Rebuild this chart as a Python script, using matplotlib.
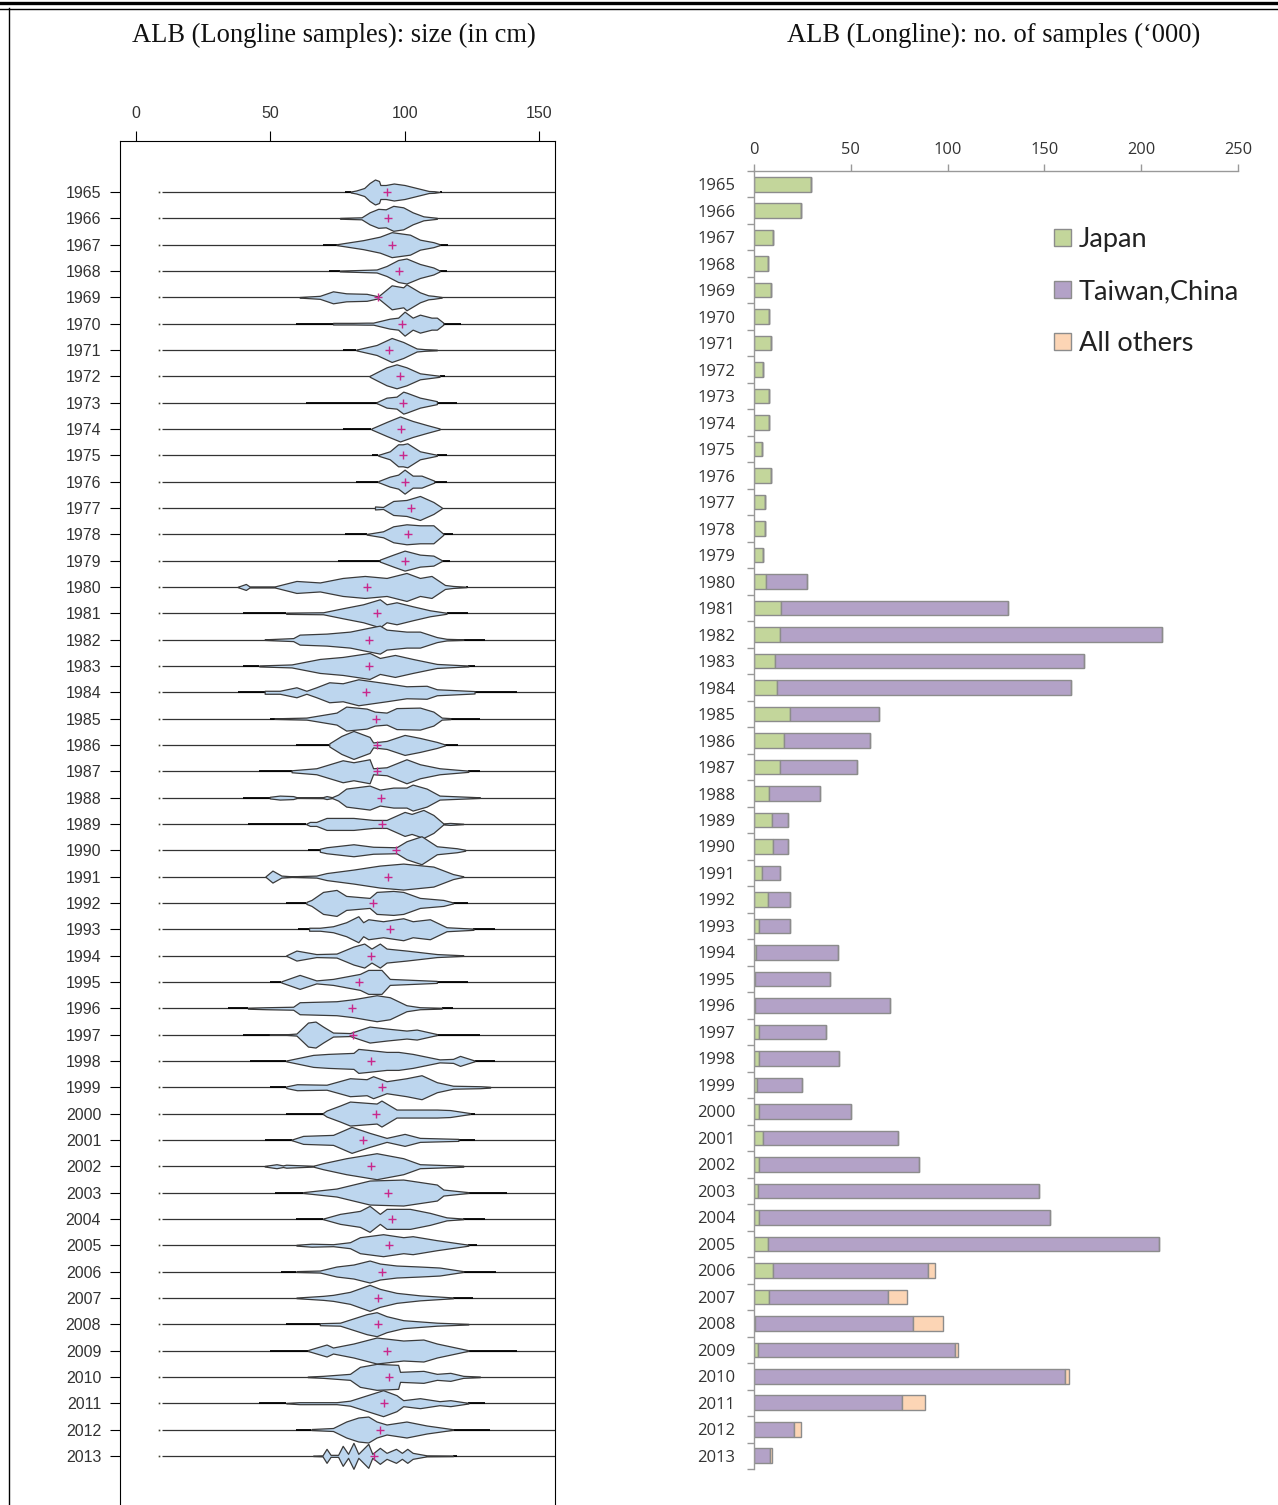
import matplotlib
matplotlib.use("Agg")
import matplotlib.pyplot as plt
from matplotlib.lines import Line2D

W, H = 1278, 1505

# ---- right panel: samples ('000) ----
years = list(range(1965, 2014))
japan = [29.4, 24.5, 10, 7, 9, 7.5, 9, 4.5, 7.5, 7.5, 4, 9, 5.5, 5.5, 4.5,
         6, 14, 13.5, 11, 12, 18.5, 15.5, 13.5, 7.5, 9.5, 10, 4, 7, 2.5, 1,
         0.5, 0.5, 2.5, 2.5, 1.5, 2.5, 4.5, 2.5, 2, 2.5, 7, 10, 7.5, 0.7, 2,
         0, 0, 0, 0]
taiwan = [0, 0, 0, 0, 0, 0, 0, 0, 0, 0, 0, 0, 0, 0, 0,
          21.4, 117, 197.5, 159.5, 151.7, 46, 44.5, 39.5, 26.5, 8, 7.5, 9.5, 11.5, 16, 42.4,
          38.5, 69.5, 34.5, 41.5, 23.3, 47.5, 69.9, 82.5, 145, 150.5, 202, 80, 61.5, 81.3, 102,
          160.6, 76.4, 20.7, 8.3]
others = [0, 0, 0, 0, 0, 0, 0, 0, 0, 0, 0, 0, 0, 0, 0,
          0, 0, 0, 0, 0, 0, 0, 0, 0, 0, 0, 0, 0, 0, 0,
          0, 0, 0, 0, 0, 0, 0, 0, 0, 0, 0, 3.5, 10, 15.6, 1.5,
          2.1, 11.9, 3.6, 1]

# ---- left panel: size in cm ----
means = [93.4, 93.9, 95.4, 97.9, 90.2, 99.1, 94.2, 98.3, 99.3, 98.6, 99.3, 100.1, 102.4,
         101.4, 100.1, 86.1, 89.8, 86.8, 86.8, 85.5, 89.2, 89.8, 89.8, 91.3, 91.7, 96.8,
         93.9, 88.3, 94.5, 87.7, 83.1, 80.3, 80.9, 87.7, 91.7, 89.3, 84.6, 87.7, 93.9,
         95.4, 94.3, 91.7, 90.2, 90.2, 93.5, 94.3, 92.4, 91, 88.7]
low_ends = [78, 76, 69.7, 72, 61, 59.8, 77, 87, 63.5, 77, 88, 82, 89, 77.8, 75.3,
            38, 40, 48, 40, 38, 49.9, 59.8, 46, 40, 41.8, 64, 48.3, 56, 60.4, 56, 49.9,
            34.4, 40, 42.4, 49.9, 56, 48, 48, 51.7, 59.8, 59.8, 54.2, 59.8, 56, 49.9,
            64, 46, 59.8, 66]
high_ends = [114, 112, 116, 115.6, 114, 120.8, 112, 115, 119.4, 113, 115.6, 115.6, 114,
             117.9, 116.9, 123.7, 123.7, 130, 126, 141.7, 128, 120, 128, 128, 121.8, 122.5,
             121.8, 123.7, 133.6, 121.8, 123.7, 118, 128, 133.6, 131.8, 126, 126, 121.8,
             138, 130, 127, 134, 125.5, 123.7, 141.7, 128, 130, 131.8, 119.6]
smallest_fish = 8.6

# (size in cm, half height of the violin)
p1965 = [(80, .5), (82, 1.5), (85, 4), (87, 9), (89, 12.5), (90.5, 11), (91, 7), (93, 7), (96, 8.5), (100, 7), (103, 5), (106, 3), (109, 1), (111, .8), (113, 0)]
p1966 = [(76, .4), (84, 1), (87, 6), (90.2, 9.5), (93, 9), (95.8, 12.5), (99.5, 11), (103, 6), (107, 2), (112, .5)]
p1967 = [(74.7, .4), (84.6, 4.5), (90.8, 8), (95.2, 12.5), (102, 10), (105.7, 5), (110.7, 2.5), (113, .5)]
p1968 = [(75.9, .4), (89.6, 1.5), (93.3, 5), (97.6, 11), (100.7, 12.5), (105.7, 7), (110.7, 3.5), (113, .5)]
p1969 = [(61, .3), (68.5, 1.5), (73.4, 6), (78.3, 4), (85.9, 3.5), (90.2, 1), (95.2, 12), (99.5, 10), (100.7, 13), (105.7, 5), (108.8, 2), (110.7, 1.5), (113.8, .3)]
p1970 = [(73.4, .8), (80.9, .8), (85.9, 1), (88.3, 1), (94.5, 5), (97.6, 6), (100, 12), (103, 6), (105.7, 9), (110, 6), (112, 6), (114.4, 1)]
p1971 = [(82.1, .4), (89.6, 5), (95.2, 12), (99.5, 8), (104.5, 1.5), (107.6, .8), (112, .3)]
p1972 = [(87, .4), (89.6, 4), (93.3, 9), (97, 12), (100.7, 9), (105.7, 3), (113, .5)]
p1973 = [(89.6, .5), (93.3, 5), (97, 6), (99.5, 11), (100.7, 10), (105.7, 5), (112, 1.5)]
p1974 = [(87.7, .5), (93.3, 7), (98.3, 12.5), (103, 8), (108.2, 4), (113, .5)]
p1975 = [(90.2, .4), (94.5, 4), (97.6, 11), (99.3, 11), (101, 12), (105.7, 4), (112, .5)]
p1976 = [(90.2, .5), (94.5, 5), (97.6, 7), (100, 12), (103, 6), (106.3, 6), (111, 1)]
p1977 = [(89, 1.5), (92, 1), (95.8, 7), (100.7, 8), (105.7, 12), (110.7, 6), (113.8, .5)]
p1978 = [(85.9, .3), (92, 3), (95.8, 8), (100.7, 10), (105.7, 9), (110.7, 9), (114.4, .5)]
p1979 = [(90.8, 1), (95.8, 6), (100, 10), (105.7, 6), (110.7, 5), (113.8, .5)]
p1980 = [(38, .2), (41, 3), (42.4, .5), (51.7, .5), (59.8, 6), (68.5, 4.5), (77, 9), (85.2, 11), (93.3, 9), (100.7, 14), (105.7, 9), (110, 11), (115, 2), (118, 1), (123, .2)]
p1981 = [(56, .6), (69.7, 1), (77, 5), (84.6, 9), (90.8, 14), (93.3, 9), (97, 11), (103, 7), (109.4, 3), (115.6, .5)]
p1982 = [(48, .3), (58.6, 1.5), (61, 5), (71, 6), (79.7, 8), (87, 12), (90.8, 14), (93.3, 10), (100.7, 8), (105.7, 8), (112, 2.5), (115.6, .8), (121.8, .3)]
p1983 = [(46, .5), (58, 1.5), (68.5, 7), (77, 9), (87, 13), (90.8, 8), (96.4, 11), (103, 7), (112, 2), (119.4, 1), (123.7, .4)]
p1984 = [(48, 1.5), (53.6, 1.5), (59.8, 5), (63.5, 1.5), (67.2, 5), (72, 10), (77, 9), (82.8, 13), (93.3, 9), (100.7, 6), (108.2, 6.5), (112, 3), (126, 1.2)]
p1985 = [(51.7, .3), (63.5, 1), (74.7, 6), (78.3, 12), (85.9, 10), (88.9, 7), (93.3, 6), (97, 10.5), (105.7, 11), (110.7, 7), (113.8, 1), (117, .5)]
p1986 = [(72, 1.5), (76.5, 9), (81, 14), (87, 8), (88.3, 2.5), (93.3, 4), (100, 10), (105.7, 7), (112, 3), (115, .5)]
p1987 = [(58, 1), (67.2, 3), (77, 11), (81, 9), (87, 12), (88.3, 3), (93.3, 4), (100.7, 12), (105.7, 7), (113, 3), (123.7, .6)]
p1988 = [(49.9, .8), (53.6, 2), (58.6, 1.5), (60, .3), (69.7, .5), (71, 1.5), (73, .4), (75.3, 3), (78.3, 9), (87, 12), (90.8, 8), (95.8, 10), (100.7, 10), (103, 13), (108.2, 9), (113, 2), (123.7, .8), (128, .3)]
p1989 = [(63.5, .3), (64.8, 2), (67.2, 2), (71, 6), (81, 6), (88.3, 4), (93.3, 4), (100, 12), (102.6, 10), (107, 14), (110.7, 9), (114.4, .5), (116.9, 1), (121.8, .2)]
p1990 = [(68.5, 1.5), (71, 3), (81, 6), (88.3, 3.5), (97, 3), (100.7, 9), (106.3, 14), (112, 4), (119.4, 2), (122.5, .5)]
p1991 = [(48.3, .2), (50.9, 6), (54.2, 1), (58, .3), (67.2, 1), (71, 3.5), (81, 7), (90.8, 11), (99.5, 13), (110.7, 10), (118, 2.5), (121.8, .3)]
p1992 = [(63.5, 1), (65.4, 3), (69.7, 11), (74.7, 13), (78.3, 7), (87, 5), (89.6, 11), (95.8, 12), (99.5, 11), (105.7, 5), (114.4, 3), (118, .5)]
p1993 = [(64.5, 1.5), (68.5, 1.5), (73.4, 3), (78.3, 7), (82.8, 13), (84.6, 7), (86.5, 10), (92, 8), (99.5, 11), (103, 8), (109.4, 10), (115.6, 2), (125.6, .6)]
p1994 = [(56, .2), (59.8, 5), (67.2, 1.5), (74.7, 2), (81, 9), (85, 12), (87.7, 7), (90.8, 12), (93.3, 7), (100.7, 5), (112, 1.5), (121.8, .3)]
p1995 = [(54.2, .6), (61, 7), (67.2, 1.5), (73.4, 3), (83.4, 8), (86.5, 12), (89, 12), (91.4, 12), (94.5, 3), (112, 1)]
p1996 = [(41.8, .5), (48.6, 1), (58.6, 1.5), (61, 6), (74.7, 7), (81, 9), (89.6, 13), (94.5, 11), (100.7, 3), (105.7, 1), (113.8, .4)]
p1997 = [(49.9, .3), (56, .3), (59.8, 1), (64.1, 12), (66.9, 13), (69.7, 8), (73.4, 2), (79.7, 1.5), (87, 8), (93.3, 6), (100.7, 4), (104.5, 5), (112, .5)]
p1998 = [(56, .4), (66, 6), (71.6, 7), (81, 8), (82.8, 12), (86.5, 11), (93.3, 9), (97.7, 9), (103, 7), (113, 1.5), (118, 2), (120.6, 5), (126, .4)]
p1999 = [(56, .8), (60, 3), (71, 2.5), (79.7, 9), (85.9, 8), (88.3, 11), (93.3, 6), (100.7, 9), (106.3, 12), (112, 5), (118, 1.5), (128, 1), (131.8, .4)]
p2000 = [(69.7, .6), (71, 3), (76, 8), (79.7, 12), (89.6, 10), (91.4, 13), (97, 4), (112, 4), (116.9, 3.5), (124.3, .5)]
p2001 = [(58, .3), (62.3, 4), (73.4, 5), (80.3, 13), (87, 7), (93.3, 2), (100, 6), (105.7, 2), (120, 1)]
p2002 = [(48, .3), (52.4, 2), (54.8, .8), (56, 1.5), (66, .4), (69.7, 3), (78.3, 8), (89.6, 13), (99.5, 8), (105.7, 2), (121.8, .5)]
p2003 = [(62.3, .4), (74.7, 4), (87, 12), (99.5, 13), (112, 8), (114.4, 3), (123.7, .4)]
p2004 = [(69.7, .3), (76, 5), (83.4, 8), (87, 13), (90.8, 5), (93.3, 10), (102, 10), (109.4, 6), (115.6, 1.5), (121.8, .3)]
p2005 = [(59.8, .4), (65.4, 1.5), (73.4, 1), (79.7, 3), (83.4, 8), (92, 11), (99.5, 8), (103, 9), (112, 5), (123.7, .5)]
p2006 = [(59.8, .4), (68.5, 1), (74.7, 5), (81, 7), (87, 11), (90.8, 8), (97, 6), (105.7, 5), (113, 4), (121.8, .4)]
p2007 = [(59.8, .3), (69.7, 2), (73.4, 3), (79.7, 6), (87, 13), (90.8, 9), (97, 5), (105.7, 2.5), (118, .4)]
p2008 = [(68.5, 1), (76, 1.5), (85.9, 10), (89.6, 12), (93.3, 8), (99.5, 4), (112, 1.5), (123.7, .3)]
p2009 = [(64.1, .5), (71, 6), (73.4, 3), (81, 7), (89.6, 13), (99.5, 10), (107, 11), (112, 7), (123.7, .3)]
p2010 = [(64, .3), (69.7, 1), (79.7, 3), (83.4, 10), (89.6, 13), (97.6, 12), (98.3, 5), (107, 6), (112, 3), (117, 4), (121.8, 1), (128, .3)]
p2011 = [(56, .2), (61, 1), (74.7, 1), (79.7, 2.5), (92, 13), (97, 8), (99.5, 3), (105.7, 5), (113, 2), (117, 3), (123.7, .3)]
p2012 = [(65.4, .5), (73.4, 1.5), (78.3, 8), (82.8, 12), (86.5, 13), (89.6, 8), (93.3, 5), (100.7, 8), (108.2, 4), (118, .3)]
p2013 = [(66, .2), (69.5, .5), (71, 7), (72.5, 1), (75.3, 1), (77, 10), (79, 2), (81, 13), (82.8, 2), (86.5, 12), (88, 2), (90.8, 8), (93.3, 3), (96.8, 7), (99, 3), (101, 7), (103, 3), (108.2, .5), (118, .3)]
profiles = [p1965, p1966, p1967, p1968, p1969, p1970, p1971, p1972, p1973, p1974,
            p1975, p1976, p1977, p1978, p1979, p1980, p1981, p1982, p1983, p1984,
            p1985, p1986, p1987, p1988, p1989, p1990, p1991, p1992, p1993, p1994,
            p1995, p1996, p1997, p1998, p1999, p2000, p2001, p2002, p2003, p2004,
            p2005, p2006, p2007, p2008, p2009, p2010, p2011, p2012, p2013]

fig = plt.figure(figsize=(W / 100, H / 100), dpi=100, facecolor="white")


def axes_px(left, top, right, bottom):
    return fig.add_axes([left / W, 1 - bottom / H, (right - left) / W, (bottom - top) / H])


# outer frame of the page
fig.add_artist(Line2D([0, 1], [1 - 2.5 / H] * 2, color="black", lw=2.4))
fig.add_artist(Line2D([0, 1], [1 - 8.5 / H] * 2, color="black", lw=1.0))
fig.add_artist(Line2D([8.8 / W] * 2, [0, 1 - 8 / H], color="black", lw=1.0))

fig.text(334 / W, 1 - 42 / H, "ALB (Longline samples): size (in cm)", ha="center", va="baseline",
         family="Liberation Serif", fontsize=19.1, color="#111111")
fig.text(994 / W, 1 - 42 / H, "ALB (Longline): no. of samples (\u2018000)", ha="center", va="baseline",
         family="Liberation Serif", fontsize=19.1, color="#111111")

# left panel
ax = axes_px(119.5, 141, 555, H)
row_px = 26.33
ax.set_xlim(-5.95, 155.9)
ax.set_ylim(1965 + (H - 192) / row_px, 1965 + (141 - 192) / row_px)
for i, year in enumerate(years):
    prof = profiles[i]
    xs = [p[0] for p in prof]
    hw = [p[1] / row_px for p in prof]
    ax.plot([smallest_fish + 1.1, 160], [year, year], color="#333333", lw=0.9, solid_capstyle="butt", zorder=1)
    ax.plot([low_ends[i], xs[0]], [year, year], color="black", lw=1.3, solid_capstyle="butt", zorder=1)
    ax.plot([xs[-1], high_ends[i]], [year, year], color="black", lw=1.3, solid_capstyle="butt", zorder=1)
    ax.plot([smallest_fish], [year], marker="s", ms=1.2, color="#444433", mew=0, zorder=1)
    ax.fill_between(xs, [year - h for h in hw], [year + h for h in hw], facecolor="#bdd6ee",
                    edgecolor="#3a3a3a", lw=0.9, zorder=2)
    ax.plot([means[i]], [year], marker="+", ms=5.5, mew=1.0, color="#c8288c", zorder=3)

ax.xaxis.tick_top()
ax.set_xticks([0, 50, 100, 150])
ax.set_yticks(years)
ax.tick_params(axis="x", length=7.2, width=0.8, pad=7.5, labelsize=11.5, labelcolor="#333333")
ax.tick_params(axis="y", length=7.2, width=0.8, pad=6, labelsize=11.5, labelcolor="#333333")
for lab in ax.get_xticklabels() + ax.get_yticklabels():
    lab.set_family("Liberation Sans")
ax.spines["bottom"].set_visible(False)
for name in ["left", "right", "top"]:
    ax.spines[name].set_linewidth(0.8)

# right panel
bx = axes_px(754, 171, 1238, 1469)
rows = list(range(len(years)))
after_japan = japan
after_taiwan = [j + t for j, t in zip(japan, taiwan)]
edge = "#8c8c8c"
bx.barh(rows, japan, height=0.55, color="#c3d69b", edgecolor=edge, lw=1, label="Japan")
bx.barh(rows, taiwan, left=after_japan, height=0.55, color="#b3a2c7", edgecolor=edge, lw=1, label="Taiwan,China")
bx.barh(rows, others, left=after_taiwan, height=0.55, color="#fcd5b5", edgecolor=edge, lw=1, label="All others")
bx.set_xlim(0, 250)
bx.set_ylim(48.5, -0.5)
bx.xaxis.tick_top()
bx.set_xticks([0, 50, 100, 150, 200, 250])
bx.set_yticks(rows)
bx.set_yticklabels(years)
bx.set_yticks([r - 0.5 for r in rows] + [48.5], minor=True)
bx.tick_params(axis="y", which="major", length=0, pad=13.5, labelsize=12, labelcolor="#333333")
bx.tick_params(axis="y", which="minor", length=5, width=1, color="#999999")
bx.tick_params(axis="x", length=5, width=1, color="#999999", pad=4.5, labelsize=11.8, labelcolor="#333333")
for lab in bx.get_xticklabels() + bx.get_yticklabels():
    lab.set_family("Open Sans")
bx.spines["right"].set_visible(False)
bx.spines["bottom"].set_visible(False)
for name in ["left", "top"]:
    bx.spines[name].set_color("#999999")
    bx.spines[name].set_linewidth(1)

bx.legend(loc="upper left", bbox_to_anchor=(1054 / W, 1 - 227 / H), bbox_transform=fig.transFigure,
          frameon=False, prop={"family": "Lato", "size": 19.5}, handlelength=0.62, handleheight=0.62,
          handletextpad=0.3, labelspacing=1.0, borderpad=0, borderaxespad=0, labelcolor="#222222")

fig.savefig("out.png", dpi=100)
